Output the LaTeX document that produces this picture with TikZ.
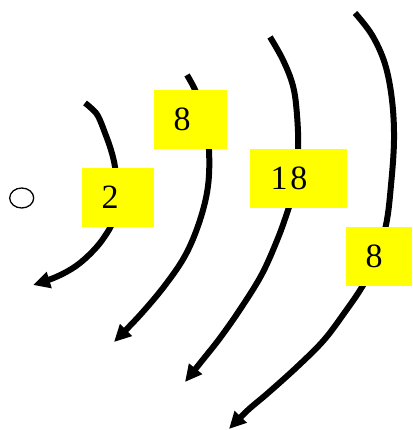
\documentclass[tikz,border=0pt]{standalone}
\usepackage{fontspec}
\setmainfont{Liberation Serif}
\usetikzlibrary{arrows.meta,shapes.geometric}
\definecolor{boxyellow}{RGB}{255,255,0}
\begin{document}
\begin{tikzpicture}[x=1pt,y=-1pt,
  orbit/.style={line width=6pt, line cap=butt, line join=round,
    -{Triangle[length=17pt,width=16pt]}},
  shellbox/.style={fill=boxyellow, draw=none, inner sep=0pt},
  num/.style={font=\fontsize{34}{40}\selectfont, inner sep=0pt}]
\useasboundingbox (0,0) rectangle (412,430);
% nucleus
\node[draw, line width=1.3pt, ellipse, minimum width=24pt, minimum height=20pt, inner sep=0pt] (nuc) at (21.7,198) {};
% start and end points
\coordinate (s1) at (85,103);  \coordinate (e1) at (33,285);
\coordinate (s2) at (187,75);  \coordinate (e2) at (114,342);
\coordinate (s3) at (270,37);  \coordinate (e3) at (185,382);
\coordinate (s4) at (355,13);  \coordinate (e4) at (229,429);
% orbits
\draw[orbit] plot[smooth, tension=0.6] coordinates {(s1) (91,108) (98,116) (105,133) (111,150) (115,167) (117,190) (113,220) (105,236) (93,251) (76,266) (56,277) (e1)};
\draw[orbit] plot[smooth, tension=0.6] coordinates {(s2) (196,92) (205,118) (209,150) (208,186) (200,220) (186,254) (166,284) (141,314) (e2)};
\draw[orbit] plot[smooth, tension=0.6] coordinates {(s3) (283,60) (293,86) (297,115) (298,150) (294,190) (288,210) (278,238) (262,274) (241,308) (220,338) (201,362) (e3)};
\draw[orbit] plot[smooth, tension=0.6] coordinates {(s4) (372,35) (385,64) (392,100) (394,140) (391,185) (386,225) (375,262) (362,287) (345,312) (324,340) (298,366) (268,393) (248,410) (e4)};
% shell boxes
\node[shellbox, minimum width=72pt, minimum height=59pt] (b1) at (118,197.5) {};
\node[shellbox, minimum width=73pt, minimum height=59pt] (b2) at (190.5,119.5) {};
\node[shellbox, minimum width=97pt, minimum height=59pt] (b3) at (298.5,178.5) {};
\node[shellbox, minimum width=66pt, minimum height=59pt] (b4) at (379,256.5) {};
% numbers
\node[num] (t1) at (110,197) {2};
\node[num] (t2) at (182,119) {8};
\node[num] (t3) at (289,178) {1\kern3pt 8};
\node[num] (t4) at (374,256) {8};
\end{tikzpicture}
\end{document}
